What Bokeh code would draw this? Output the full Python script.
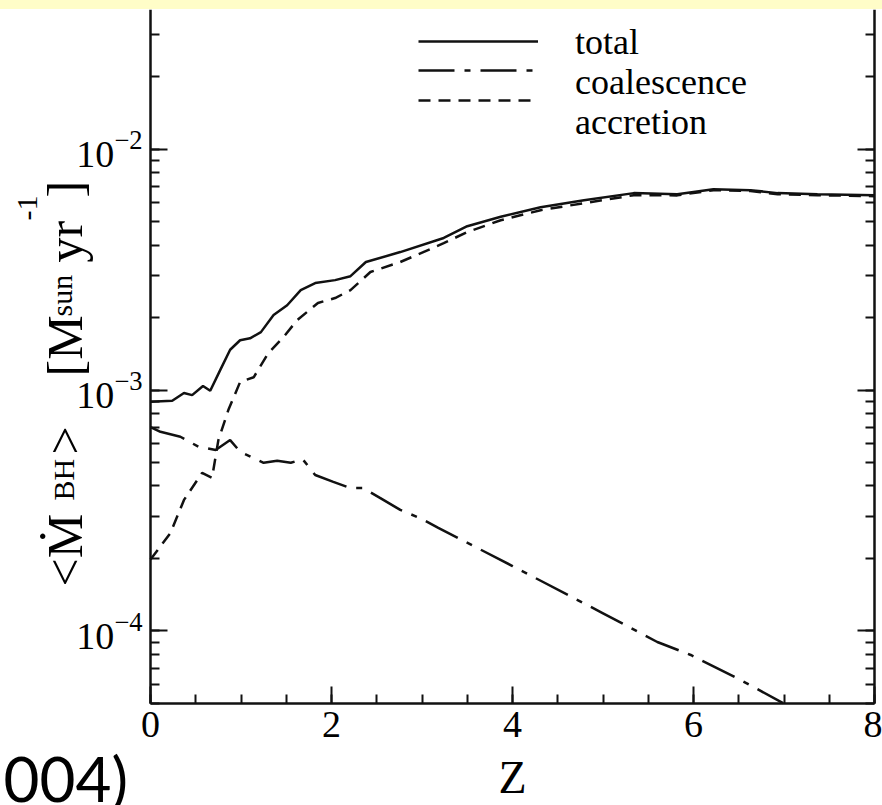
import math
from bokeh.plotting import figure
from bokeh.models import (Range1d, LinearAxis, LogAxis, SingleIntervalTicker, LogTicker,
                          Legend, LegendItem, Label, Div, CustomJSTickFormatter)
from bokeh.core.properties import value
from bokeh.layouts import column
from bokeh.embed import file_html
from bokeh.resources import INLINE

# ---- data ----
z_total = [0.0, 0.24, 0.37, 0.46, 0.58, 0.66, 0.77, 0.88, 0.99, 1.10, 1.22, 1.36,
           1.51, 1.66, 1.82, 2.04, 2.21, 2.38, 2.76, 3.24, 3.50, 3.87, 4.31, 4.79,
           5.34, 5.82, 6.22, 6.63, 6.93, 7.37, 8.0]
mdot_total = [8.94e-4, 9.03e-4, 9.72e-4, 9.53e-4, 1.04e-3, 9.93e-4, 1.21e-3, 1.47e-3,
              1.61e-3, 1.64e-3, 1.74e-3, 2.05e-3, 2.25e-3, 2.60e-3, 2.78e-3, 2.86e-3,
              2.97e-3, 3.40e-3, 3.74e-3, 4.28e-3, 4.79e-3, 5.24e-3, 5.74e-3, 6.14e-3,
              6.57e-3, 6.50e-3, 6.82e-3, 6.76e-3, 6.57e-3, 6.50e-3, 6.44e-3]

z_coal = [0.0, 0.11, 0.33, 0.53, 0.72, 0.88, 0.99, 1.25, 1.40, 1.55, 1.68, 1.82, 2.02,
          2.21, 2.35, 2.54, 2.76, 2.98, 3.18, 4.0, 4.99, 5.60, 5.97, 6.52, 6.99]
mdot_coal = [7.02e-4, 6.71e-4, 6.40e-4, 5.82e-4, 5.64e-4, 6.20e-4, 5.55e-4, 4.99e-4,
             5.09e-4, 4.99e-4, 5.17e-4, 4.44e-4, 4.16e-4, 3.92e-4, 3.92e-4, 3.56e-4,
             3.18e-4, 2.94e-4, 2.68e-4, 1.86e-4, 1.19e-4, 9.0e-5, 7.95e-5, 6.26e-5,
             5.02e-5]

z_accr = [0.0, 0.22, 0.37, 0.57, 0.68, 0.75, 0.86, 0.99, 1.14, 1.30, 1.47, 1.62, 1.85,
          2.04, 2.21, 2.43, 2.76, 3.24, 3.50, 3.87, 4.31, 4.79, 5.34, 5.82, 6.22, 6.63,
          6.93, 7.37, 8.0]
mdot_accr = [1.98e-4, 2.55e-4, 3.50e-4, 4.53e-4, 4.32e-4, 6.20e-4, 8.26e-4, 1.08e-3,
             1.13e-3, 1.42e-3, 1.66e-3, 1.95e-3, 2.30e-3, 2.41e-3, 2.60e-3, 3.09e-3,
             3.40e-3, 4.07e-3, 4.53e-3, 5.07e-3, 5.58e-3, 5.97e-3, 6.44e-3, 6.43e-3,
             6.76e-3, 6.70e-3, 6.50e-3, 6.44e-3, 6.38e-3]

series_names = ["total", "coalescence", "accretion"]
x_title = "Z"

X_MIN, X_MAX = 0, 8
Y_MIN, Y_MAX = 5e-5, 0.038

SERIF = "Liberation Serif"
INK = "#111111"

PAGE_W, PAGE_H, BAND_H = 882, 805, 9
FRAME_L, FRAME_R, FRAME_T, FRAME_B = 150, 874, 9, 703   # axes box, page pixels


def sx(px):
    """page pixel x -> data x (for placement)"""
    return X_MIN + (px - FRAME_L) * (X_MAX - X_MIN) / (FRAME_R - FRAME_L)


def sy(py):
    """page pixel y -> data y on log scale (for placement)"""
    lo, hi = math.log10(Y_MIN), math.log10(Y_MAX)
    return 10 ** (hi - (py - FRAME_T) * (hi - lo) / (FRAME_B - FRAME_T))


# the plotting area spans the whole canvas; axes are pinned at the data box
p = figure(width=PAGE_W, height=PAGE_H - BAND_H,
           x_range=Range1d(sx(0), sx(PAGE_W)),
           y_range=Range1d(sy(PAGE_H), sy(BAND_H)), y_axis_type="log",
           x_axis_location=None, y_axis_location=None,
           output_backend="svg", toolbar_location=None,
           min_border=0)
p.outline_line_color = None
p.grid.visible = False
p.background_fill_color = "white"
p.border_fill_color = "white"


def style_axis(ax, labels=True):
    ax.axis_line_width = 2.5
    ax.axis_line_color = INK
    ax.major_tick_in = 17
    ax.major_tick_out = 0
    ax.minor_tick_in = 9
    ax.minor_tick_out = 0
    ax.major_tick_line_width = 2
    ax.minor_tick_line_width = 2
    ax.major_tick_line_color = INK
    ax.minor_tick_line_color = INK
    ax.major_label_text_font = SERIF
    ax.major_label_text_font_size = "38px" if labels else "1px"
    ax.major_label_text_color = "black"
    ax.major_label_standoff = 8 if labels else 0


xa = LinearAxis(ticker=SingleIntervalTicker(interval=2, num_minor_ticks=4),
                fixed_location=Y_MIN, bounds=(X_MIN, X_MAX))
style_axis(xa)
p.add_layout(xa, "below")

ya = LogAxis(ticker=LogTicker(num_minor_ticks=10),
             fixed_location=X_MIN, bounds=(Y_MIN, Y_MAX))
style_axis(ya)
p.add_layout(ya, "left")

ra = LogAxis(ticker=LogTicker(num_minor_ticks=10),
             formatter=CustomJSTickFormatter(code="return ''"),
             fixed_location=X_MAX, bounds=(Y_MIN, Y_MAX))
style_axis(ra, labels=False)
p.add_layout(ra, "right")

# curves
r_tot = p.line(z_total, mdot_total, line_color=INK, line_width=2.5)
r_coal = p.line(z_coal, mdot_coal, line_color=INK, line_width=2.5,
                line_dash="36 10 6 10")
r_accr = p.line(z_accr, mdot_accr, line_color=INK, line_width=2.5,
                line_dash="12 8")
# invisible stand-in so that the legend texts can sit apart from the samples
r_blank = p.line([], [], line_alpha=0)


def bare_legend(item, loc, font_size):
    lg = Legend(items=[item], location=loc)
    lg.glyph_width = 120
    lg.glyph_height = 20
    lg.label_height = 20
    lg.label_standoff = 37
    lg.label_text_font = SERIF
    lg.label_text_font_size = font_size
    lg.label_text_color = "black"
    lg.padding = 0
    lg.margin = 0
    lg.border_line_color = None
    lg.background_fill_alpha = 0
    p.add_layout(lg)


# line samples (as in the reference they sit closer together than the texts)
for rend, loc_y in [(r_tot, 754), (r_coal, 725), (r_accr, 695)]:
    bare_legend(LegendItem(label=value(""), renderers=[rend]), (418, loc_y), "1px")

# legend texts
for name, loc_y in [(series_names[0], 742), (series_names[1], 702), (series_names[2], 662)]:
    bare_legend(LegendItem(label=name, renderers=[r_blank]), (418, loc_y), "36px")

# x-axis title
p.add_layout(Label(x=sx(512), y=sy(777), text=x_title, text_font=SERIF,
                   text_font_size="46px", text_align="center",
                   text_baseline="alphabetic", text_color="black"))

# y-axis title built from pieces (rotated, reading upward)
pieces = [
    ("<\u1e40", 586, 64, "50px"),
    ("BH", 500, 63, "30px"),
    (">", 454, 64, "50px"),
    ("[M", 376, 64, "50px"),
    ("sun", 316, 61, "30px"),
    ("yr", 262, 64, "50px"),
    ("-1", 220, 27, "30px"),
    ("]", 197, 64, "50px"),
]
for txt, py, px, fs in pieces:
    p.add_layout(Label(x=sx(px), y=sy(py), text=txt, angle=math.pi / 2,
                       text_font=SERIF, text_font_size=fs, text_align="left",
                       text_baseline="alphabetic", text_color="black"))

# slide text fragment at bottom-left
p.add_layout(Label(x=sx(3), y=sy(777), text="004)", text_font="Lato",
                   text_font_size="62px", text_align="left",
                   text_baseline="alphabetic", text_color="black"))

band = Div(text="", width=PAGE_W, height=BAND_H, margin=0,
           styles={"background-color": "#FFFDC8"})
layout = column(band, p, spacing=0, margin=0)

open("out.html", "w").write(file_html(layout, INLINE))
